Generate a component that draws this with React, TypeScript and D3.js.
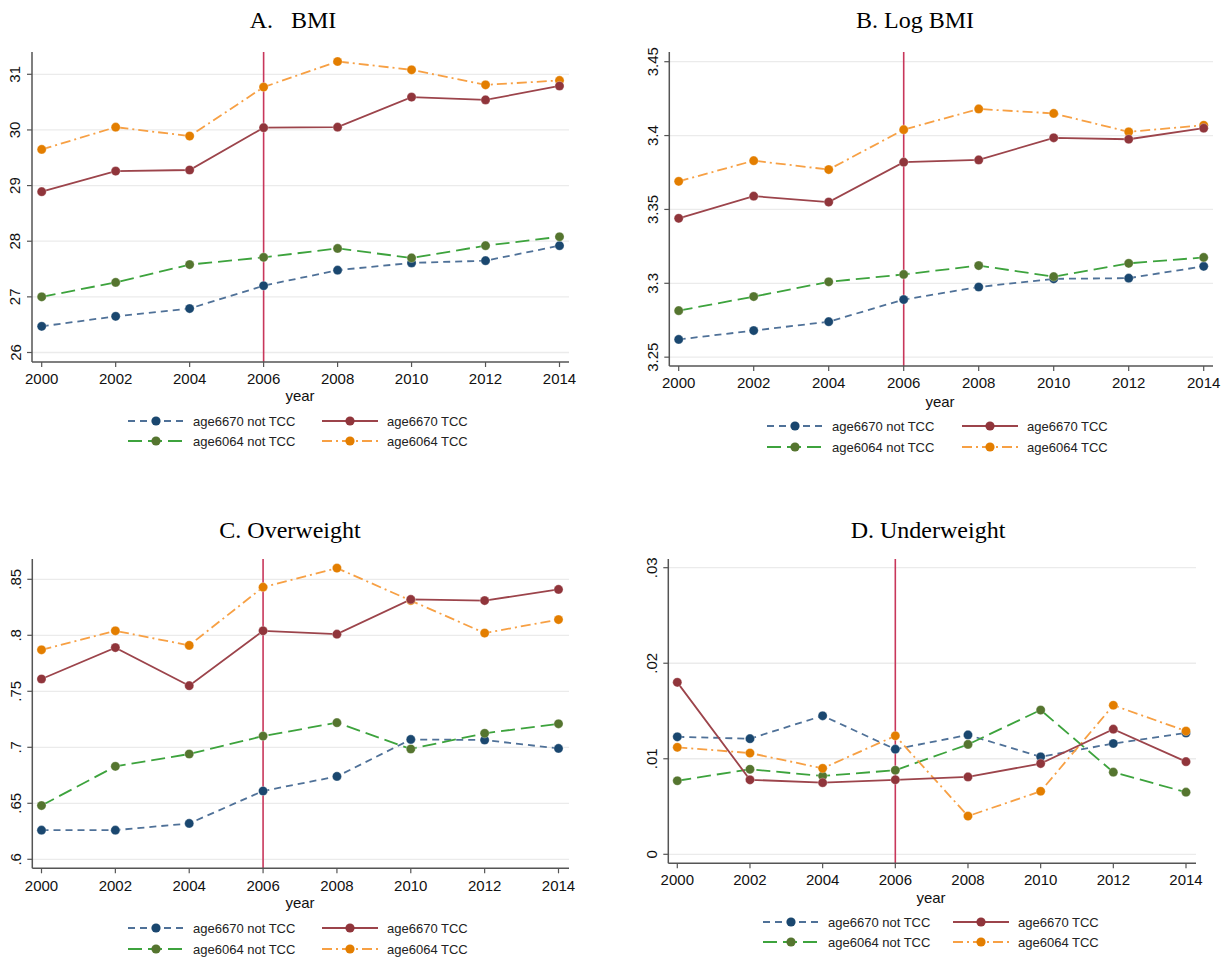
import React from "react";
import * as d3 from "d3";

const years = [2000, 2002, 2004, 2006, 2008, 2010, 2012, 2014];
const seriesNames = ["age6670 not TCC", "age6670 TCC", "age6064 not TCC", "age6064 TCC"];

// A. BMI
const bmi6670NotTCC = [26.47, 26.65, 26.79, 27.2, 27.48, 27.61, 27.65, 27.92];
const bmi6670TCC = [28.89, 29.26, 29.28, 30.04, 30.05, 30.59, 30.54, 30.79];
const bmi6064NotTCC = [27.0, 27.26, 27.58, 27.71, 27.87, 27.7, 27.92, 28.08];
const bmi6064TCC = [29.65, 30.05, 29.89, 30.77, 31.23, 31.08, 30.81, 30.89];
const bmiTicks = [26, 27, 28, 29, 30, 31];
const bmiTickLabels = ["26", "27", "28", "29", "30", "31"];

// B. Log BMI
const lbmi6670NotTCC = [3.262, 3.268, 3.274, 3.289, 3.2975, 3.303, 3.3035, 3.3115];
const lbmi6670TCC = [3.344, 3.359, 3.355, 3.382, 3.3835, 3.3985, 3.3975, 3.405];
const lbmi6064NotTCC = [3.2815, 3.291, 3.301, 3.306, 3.312, 3.3045, 3.3135, 3.3175];
const lbmi6064TCC = [3.369, 3.383, 3.377, 3.404, 3.418, 3.415, 3.4025, 3.407];
const lbmiTicks = [3.25, 3.3, 3.35, 3.4, 3.45];
const lbmiTickLabels = ["3.25", "3.3", "3.35", "3.4", "3.45"];

// C. Overweight
const ow6670NotTCC = [0.626, 0.626, 0.632, 0.661, 0.674, 0.707, 0.7065, 0.699];
const ow6670TCC = [0.761, 0.789, 0.755, 0.804, 0.801, 0.832, 0.831, 0.841];
const ow6064NotTCC = [0.648, 0.683, 0.694, 0.71, 0.722, 0.6985, 0.7125, 0.721];
const ow6064TCC = [0.787, 0.804, 0.791, 0.843, 0.86, 0.831, 0.802, 0.814];
const owTicks = [0.6, 0.65, 0.7, 0.75, 0.8, 0.85];
const owTickLabels = [".6", ".65", ".7", ".75", ".8", ".85"];

// D. Underweight
const uw6670NotTCC = [0.0123, 0.0121, 0.0145, 0.011, 0.0125, 0.0102, 0.0116, 0.0127];
const uw6670TCC = [0.018, 0.0078, 0.0075, 0.0078, 0.0081, 0.0095, 0.0131, 0.0097];
const uw6064NotTCC = [0.0077, 0.0089, 0.0082, 0.0088, 0.0115, 0.0151, 0.0086, 0.0065];
const uw6064TCC = [0.0112, 0.0106, 0.009, 0.0124, 0.004, 0.0066, 0.0156, 0.0129];
const uwTicks = [0, 0.01, 0.02, 0.03];
const uwTickLabels = ["0", ".01", ".02", ".03"];

const styles = [
  { line: "#4f7198", marker: "#1a476f", dash: "7 5" },
  { line: "#9c444b", marker: "#90353b", dash: "none" },
  { line: "#3da33d", marker: "#55752f", dash: "14 6" },
  { line: "#f7a044", marker: "#e37e00", dash: "10 4 2 4" },
];

const panels = [
  {
    title: "A.   BMI", titleX: 293, titleY: 28,
    axisX: 32, xRange: [41.7, 559.5], gridRight: 569,
    yTop: 52, yBottom: 362, yDomain: [26, 31], yRange: [352.5, 74.3],
    ticks: bmiTicks, tickLabels: bmiTickLabels,
    series: [bmi6670NotTCC, bmi6670TCC, bmi6064NotTCC, bmi6064TCC],
    tickLabelY: 378, yearX: 300, yearY: 395, legRows: [421, 441], legCols: [128, 322],
  },
  {
    title: "B. Log BMI", titleX: 915, titleY: 28,
    axisX: 669.3, xRange: [678.7, 1203.7], gridRight: 1213,
    yTop: 52, yBottom: 366, yDomain: [3.3, 3.45], yRange: [283.3, 61.7],
    ticks: lbmiTicks, tickLabels: lbmiTickLabels,
    series: [lbmi6670NotTCC, lbmi6670TCC, lbmi6064NotTCC, lbmi6064TCC],
    tickLabelY: 382, yearX: 940, yearY: 401, legRows: [426, 447], legCols: [767, 962],
  },
  {
    title: "C. Overweight", titleX: 290, titleY: 538,
    axisX: 32.3, xRange: [41.5, 558.5], gridRight: 569,
    yTop: 559, yBottom: 868.3, yDomain: [0.6, 0.85], yRange: [859.3, 579.3],
    ticks: owTicks, tickLabels: owTickLabels,
    series: [ow6670NotTCC, ow6670TCC, ow6064NotTCC, ow6064TCC],
    tickLabelY: 885, yearX: 300, yearY: 902, legRows: [928, 949], legCols: [128, 322],
  },
  {
    title: "D. Underweight", titleX: 928, titleY: 538,
    axisX: 668.3, xRange: [677.3, 1186], gridRight: 1196,
    yTop: 559, yBottom: 863.3, yDomain: [0, 0.03], yRange: [854.3, 567.7],
    ticks: uwTicks, tickLabels: uwTickLabels,
    series: [uw6670NotTCC, uw6670TCC, uw6064NotTCC, uw6064TCC],
    tickLabelY: 879, yearX: 931, yearY: 897, legRows: [922, 942], legCols: [763, 953],
  },
];

const sans = "'Liberation Sans', Arial, Helvetica, sans-serif";
const serif = "'Liberation Serif', 'Times New Roman', serif";
const axisColor = "#555555";
const refColor = "#c8375b";

function Panel({ p }: { p: any }) {
  const x = d3.scaleLinear().domain([2000, 2014]).range(p.xRange);
  const y = d3.scaleLinear().domain(p.yDomain).range(p.yRange);
  const line = d3
    .line<number>()
    .x((_, i) => x(years[i]))
    .y((v) => y(v));
  const drawOrder = [0, 2, 3, 1];
  return (
    <g>
      <text x={p.titleX} y={p.titleY} textAnchor="middle" fontFamily={serif} fontSize={24} fill="#000" style={{ whiteSpace: "pre" }}>
        {p.title}
      </text>
      {p.ticks.map((t: number, i: number) => (
        <g key={"g" + i}>
          <line x1={p.axisX} x2={p.gridRight} y1={y(t)} y2={y(t)} stroke="#ebebeb" strokeWidth={1.3} />
          <line x1={p.axisX - 5} x2={p.axisX} y1={y(t)} y2={y(t)} stroke={axisColor} strokeWidth={1.2} />
          <text
            x={p.axisX - 17}
            y={y(t)}
            transform={`rotate(-90, ${p.axisX - 17}, ${y(t)})`}
            textAnchor="middle"
            dominantBaseline="central"
            fontFamily={sans}
            fontSize={15}
            fill="#111"
          >
            {p.tickLabels[i]}
          </text>
        </g>
      ))}
      <line x1={x(2006)} x2={x(2006)} y1={p.yTop} y2={p.yBottom} stroke={refColor} strokeWidth={1.6} />
      {drawOrder.map((si) => (
        <path key={"l" + si} d={line(p.series[si]) || ""} fill="none" stroke={styles[si].line} strokeWidth={1.8} strokeDasharray={styles[si].dash} />
      ))}
      {drawOrder.map((si) =>
        p.series[si].map((v: number, i: number) => (
          <circle key={"c" + si + "-" + i} cx={x(years[i])} cy={y(v)} r={4.6} fill={styles[si].marker} stroke="#ffffff" strokeOpacity={0.5} strokeWidth={0.6} />
        ))
      )}
      <line x1={p.axisX} x2={p.axisX} y1={p.yTop} y2={p.yBottom} stroke={axisColor} strokeWidth={1.5} />
      <line x1={p.axisX} x2={p.gridRight} y1={p.yBottom} y2={p.yBottom} stroke={axisColor} strokeWidth={1.5} />
      {years.map((yr) => (
        <g key={"x" + yr}>
          <line x1={x(yr)} x2={x(yr)} y1={p.yBottom} y2={p.yBottom + 5} stroke={axisColor} strokeWidth={1.2} />
          <text x={x(yr)} y={p.tickLabelY} textAnchor="middle" dominantBaseline="central" fontFamily={sans} fontSize={15} fill="#111">
            {yr}
          </text>
        </g>
      ))}
      <text x={p.yearX} y={p.yearY} textAnchor="middle" dominantBaseline="central" fontFamily={sans} fontSize={15} fill="#111">
        year
      </text>
      {seriesNames.map((name, si) => {
        const col = si % 2;
        const row = Math.floor(si / 2);
        const lx = p.legCols[col];
        const ly = p.legRows[row];
        return (
          <g key={"leg" + si}>
            <line x1={lx} x2={lx + 56} y1={ly} y2={ly} stroke={styles[si].line} strokeWidth={1.8} strokeDasharray={styles[si].dash} />
            <circle cx={lx + 28} cy={ly} r={4.6} fill={styles[si].marker} />
            <text x={lx + 65} y={ly} dominantBaseline="central" fontFamily={sans} fontSize={13} fill="#222">
              {name}
            </text>
          </g>
        );
      })}
    </g>
  );
}

export default function App() {
  return (
    <svg width={1232} height={963} style={{ position: "absolute", left: 0, top: 0, background: "#fff" }}>
      <rect width={1232} height={963} fill="#fff" />
      {panels.map((p, i) => (
        <Panel key={i} p={p} />
      ))}
    </svg>
  );
}
